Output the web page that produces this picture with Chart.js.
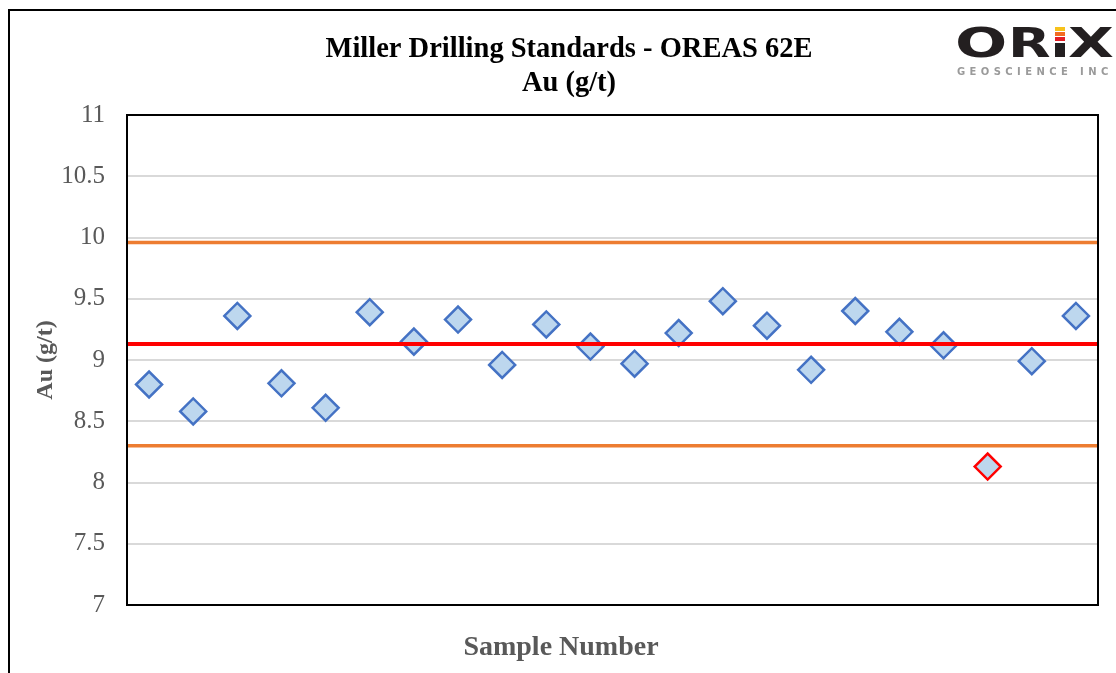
<!DOCTYPE html>
<html>
<head>
<meta charset="utf-8">
<script src="https://cdn.jsdelivr.net/npm/chart.js@4/dist/chart.umd.min.js"></script>
<style>
  html, body { margin: 0; padding: 0; background: #fff; }
  #wrap { width: 1116px; height: 673px; position: relative; }
</style>
</head>
<body>
<div id="wrap"><canvas id="myChart"></canvas></div>
<script>
// sample numbers (x axis, labels hidden in the original)
const samples = [1, 2, 3, 4, 5, 6, 7, 8, 9, 10, 11, 12, 13, 14, 15, 16, 17, 18, 19, 20, 21, 22];
// Au values (g/t)
const auValues = [8.80, 8.58, 9.36, 8.81, 8.61, 9.39, 9.15, 9.33, 8.96, 9.29, 9.11, 8.97,
                  9.22, 9.48, 9.28, 8.92, 9.40, 9.23, 9.12, 8.13, 8.99, 9.36];
// certified value and +/- limits for OREAS 62E
const certValue = 9.13;
const upperLimit = 9.96;
const lowerLimit = 8.30;
const yTicks = [7, 7.5, 8, 8.5, 9, 9.5, 10, 10.5, 11];
const titleLines = ['Miller Drilling Standards - OREAS 62E', 'Au (g/t)'];

const serif = "'Liberation Serif', 'Times New Roman', serif";
const xMin = 0.5, xMax = samples.length + 0.5;

function refLine(v) {
    return [{ x: xMin, y: v }, { x: xMax, y: v }];
}

// outline of the chart, the plot box, titles and the logo
const framePlugin = {
    id: 'frame',
    beforeDraw(chart) {
        const c = chart.ctx;
        c.save();
        c.strokeStyle = '#000';
        c.lineWidth = 2;
        c.beginPath();
        c.moveTo(9, 673);
        c.lineTo(9, 10);
        c.lineTo(1116, 10);
        c.stroke();
        c.restore();
    },
    afterDraw(chart) {
        const c = chart.ctx;
        const a = chart.chartArea;
        c.save();
        c.strokeStyle = '#000';
        c.lineWidth = 2;
        c.strokeRect(a.left, a.top, a.right - a.left, a.bottom - a.top);

        c.textAlign = 'center';
        c.textBaseline = 'middle';
        // chart title
        c.fillStyle = '#000';
        c.font = "bold 28.5px " + serif;
        c.fillText(titleLines[0], 569, 50);
        c.fillText(titleLines[1], 569, 84);
        // x axis title (sits left of centre in the original)
        c.fillStyle = '#595959';
        c.font = "bold 28px " + serif;
        c.fillText('Sample Number', 561, 648);

        // ORiX logo
        c.textAlign = 'left';
        c.textBaseline = 'alphabetic';
        c.fillStyle = '#231f20';
        c.font = "bold 41px 'DejaVu Sans', sans-serif";
        const letter = (t, x, sx) => {
            c.save();
            c.translate(x, 57);
            c.scale(sx, 1);
            c.fillText(t, 0, 0);
            c.restore();
        };
        letter('O', 955, 1.5);
        letter('R', 1008, 1.35);
        letter('X', 1068, 1.45);
        // the i with coloured dot
        c.fillRect(1055, 43, 10, 14);
        c.fillStyle = '#f7c21b'; c.fillRect(1055, 27, 10, 4);
        c.fillStyle = '#f26b21'; c.fillRect(1055, 32, 10, 4);
        c.fillStyle = '#e31e24'; c.fillRect(1055, 37, 10, 4);
        c.fillStyle = '#9a9a9a';
        c.font = "bold 10px 'DejaVu Sans', sans-serif";
        c.letterSpacing = '4.4px';
        c.fillText('GEOSCIENCE INC', 957, 75);
        c.restore();
    }
};

const data = {
    datasets: [
        {
            label: 'Upper limit',
            type: 'line',
            data: refLine(upperLimit),
            borderColor: '#ED7D31',
            borderWidth: 3.5,
            pointRadius: 0
        },
        {
            label: 'Certified value',
            type: 'line',
            data: refLine(certValue),
            borderColor: '#FF0000',
            borderWidth: 4,
            pointRadius: 0
        },
        {
            label: 'Lower limit',
            type: 'line',
            data: refLine(lowerLimit),
            borderColor: '#ED7D31',
            borderWidth: 3.5,
            pointRadius: 0
        },
        {
            label: 'Au (g/t)',
            type: 'scatter',
            data: samples.map((s, i) => ({ x: s, y: auValues[i] })),
            pointStyle: 'rectRot',
            pointRadius: 13,
            pointHoverRadius: 13,
            backgroundColor: '#BDD7EE',
            borderColor: auValues.map(v => (v < lowerLimit || v > upperLimit) ? '#FF0000' : '#4472C4'),
            borderWidth: 2.5
        }
    ]
};

const config = {
    type: 'scatter',
    data: data,
    plugins: [framePlugin],
    options: {
        responsive: false,
        animation: false,
        layout: { padding: { left: 0, top: 115, right: 18, bottom: 0 } },
        plugins: {
            legend: { display: false },
            tooltip: { enabled: false },
            title: { display: false }
        },
        scales: {
            x: {
                type: 'linear',
                min: xMin,
                max: xMax,
                ticks: { display: false },
                grid: { display: false, drawTicks: false },
                border: { display: false },
                afterFit(s) { s.height = 68; }
            },
            y: {
                min: 7,
                max: 11,
                afterBuildTicks(s) { s.ticks = yTicks.map(v => ({ value: v })); },
                ticks: {
                    color: '#595959',
                    font: { family: serif, size: 25 },
                    padding: 22,
                    callback: v => String(v)
                },
                grid: { color: '#D9D9D9', lineWidth: 2, drawTicks: false },
                border: { display: false },
                title: {
                    display: true,
                    text: 'Au (g/t)',
                    color: '#595959',
                    font: { family: serif, size: 24, weight: 'bold', lineHeight: 1.2 },
                    padding: { top: 31, bottom: 0 }
                },
                afterFit(s) { s.width = 127; }
            }
        }
    }
};

const canvas = document.getElementById('myChart');
canvas.width = 1116;
canvas.height = 673;
const myChart = new Chart(canvas.getContext('2d'), config);
</script>
</body>
</html>
